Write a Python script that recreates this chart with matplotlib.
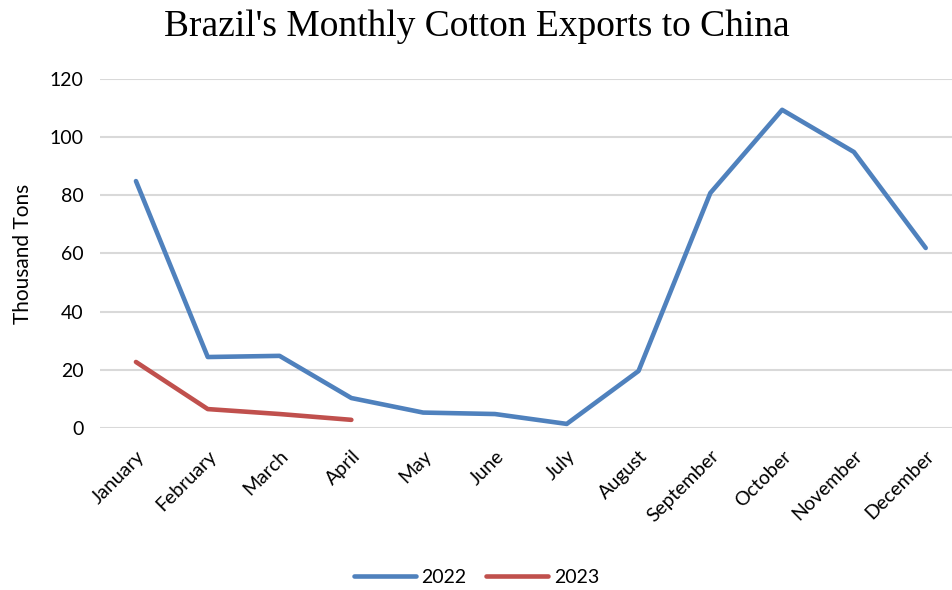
import matplotlib.pyplot as plt

months = ["January", "February", "March", "April", "May", "June",
          "July", "August", "September", "October", "November", "December"]
exports_2022 = [84.9, 24.4, 24.8, 10.3, 5.3, 4.8, 1.4, 19.6, 80.8, 109.4, 94.9, 61.9]
exports_2023 = [22.7, 6.5, 4.8, 2.8]

fig = plt.figure(figsize=(9.53, 5.9), dpi=100)
ax = fig.add_axes([0.105, 0.2746, 0.895, 0.5915])

x = range(len(months))
ax.plot(x, exports_2022, color="#4F81BD", lw=3.3, label="2022", solid_capstyle="round")
ax.plot(range(len(exports_2023)), exports_2023, color="#C0504D", lw=3.3, label="2023",
        solid_capstyle="round")

ax.set_ylim(0, 120)
ax.set_yticks(range(0, 121, 20))
ax.set_xlim(-0.5, 11.38)
ax.set_xticks(list(x))
ax.set_xticklabels(months, rotation=45, ha="right", rotation_mode="anchor",
                   family="Lato", fontsize=14)
for lbl in ax.get_yticklabels():
    lbl.set_family("Lato")
    lbl.set_fontsize(14)
ax.tick_params(length=0, pad=12)
ax.tick_params(axis="x", pad=14)
ax.grid(axis="y", color="#D9D9D9", lw=1.5)
ax.set_axisbelow(True)
for s in ax.spines.values():
    s.set_visible(False)

ax.set_ylabel("Thousand Tons", family="Lato", fontsize=15, labelpad=12)
fig.text(0.5, 0.955, "Brazil's Monthly Cotton Exports to China", ha="center", va="center",
         family="Liberation Serif", fontsize=27)

leg = fig.legend(loc="center", bbox_to_anchor=(0.5, 0.022), ncol=2, frameon=False,
                 prop={"family": "Lato", "size": 14}, handlelength=3.2, columnspacing=1.0,
                 handletextpad=0.3)

fig.savefig("out.png", dpi=100)
